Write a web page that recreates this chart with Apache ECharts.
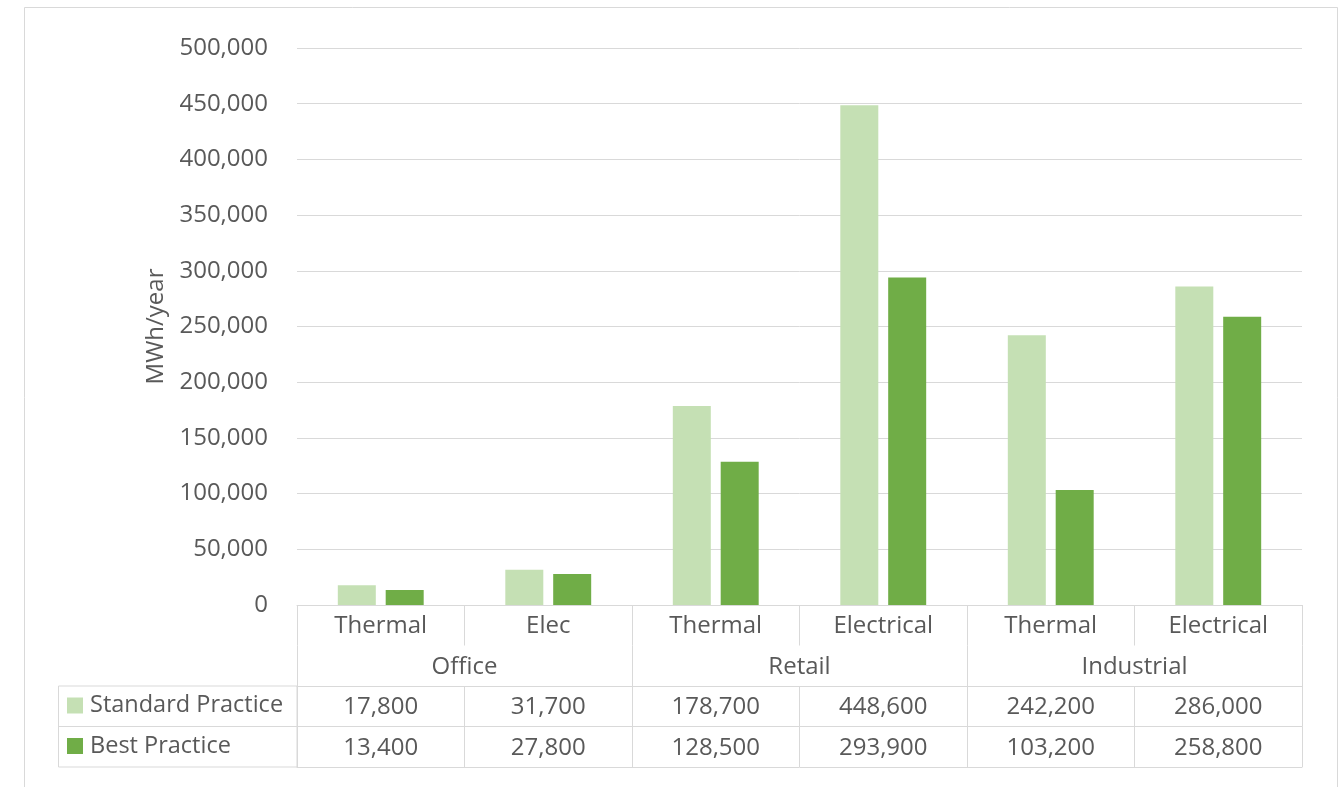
<!DOCTYPE html>
<html>
<head>
<meta charset="utf-8">
<script src="https://cdn.jsdelivr.net/npm/echarts@6/dist/echarts.min.js"></script>
<style>
html,body{margin:0;padding:0;background:#fff;}
#c{width:1342px;height:787px;}
</style>
</head>
<body>
<div id="c"></div>
<script>
// ---- data ----
var groups = ["Office", "Retail", "Industrial"];
var subLabels = ["Thermal", "Elec", "Thermal", "Electrical", "Thermal", "Electrical"];
var categoryKeys = ["Office Thermal", "Office Elec", "Retail Thermal", "Retail Electrical", "Industrial Thermal", "Industrial Electrical"];
var seriesNames = ["Standard Practice", "Best Practice"];
var standardPractice = [17800, 31700, 178700, 448600, 242200, 286000];
var bestPractice = [13400, 27800, 128500, 293900, 103200, 258800];
var yMin = 0, yMax = 500000, yInterval = 50000;

// ---- styling ----
var FONT = "'Open Sans', 'DejaVu Sans', sans-serif";
var TXT = "#595959";
var LINE = "#d9d9d9";
var FS = 24;
var ROW = 40.5;

function fmt(v) { return Number(v).toLocaleString('en-US'); }

function tableAxis(offset, labels, opts) {
  opts = opts || {};
  return {
    type: 'category',
    gridIndex: 0,
    position: 'bottom',
    offset: offset,
    data: opts.data || categoryKeys,
    boundaryGap: true,
    axisLine: { show: opts.line !== false, lineStyle: { color: LINE, width: 1 } },
    axisTick: { show: opts.tick !== false, length: ROW, interval: 0, alignWithLabel: false, lineStyle: { color: LINE, width: 1 } },
    axisLabel: {
      show: !!labels,
      interval: 0,
      hideOverlap: false,
      margin: ROW / 2 + 1,
      verticalAlign: 'middle',
      color: TXT,
      fontFamily: FONT,
      fontSize: FS,
      formatter: function (v, i) { return labels ? labels[i] : ''; }
    },
    splitLine: { show: false }
  };
}

var chart = echarts.init(document.getElementById('c'), null, { renderer: 'canvas' });
chart.setOption({
  animation: false,
  backgroundColor: '#ffffff',
  color: ['#c5e0b4', '#70ad47'],
  grid: { left: 297, right: 40, top: 48, bottom: 182, containLabel: false },
  legend: {
    orient: 'vertical',
    left: 62,
    top: 688,
    padding: 5,
    itemWidth: 16,
    itemHeight: 16,
    itemGap: 15.5,
    icon: 'rect',
    data: seriesNames,
    textStyle: { color: TXT, fontFamily: FONT, fontSize: 23.5, lineHeight: 25, padding: [0, 0, 0, 2] }
  },
  xAxis: [
    tableAxis(0, subLabels),
    tableAxis(ROW, groups, { data: groups, line: false }),
    tableAxis(ROW * 2, standardPractice.map(fmt)),
    tableAxis(ROW * 3, bestPractice.map(fmt)),
    tableAxis(ROW * 4, null, { tick: false })
  ],
  yAxis: {
    type: 'value',
    min: yMin,
    max: yMax,
    interval: yInterval,
    name: 'MWh/year',
    nameLocation: 'middle',
    nameGap: 128,
    nameRotate: 90,
    nameTextStyle: { color: TXT, fontFamily: FONT, fontSize: FS },
    axisLine: { show: false },
    axisTick: { show: false },
    axisLabel: { color: TXT, fontFamily: FONT, fontSize: FS, margin: 29, formatter: function (v) { return fmt(v); } },
    splitLine: { lineStyle: { color: LINE, width: 1 } }
  },
  series: [
    { name: seriesNames[0], type: 'bar', xAxisIndex: 0, data: standardPractice, barWidth: 38, barGap: '26%' },
    { name: seriesNames[1], type: 'bar', xAxisIndex: 0, data: bestPractice, barWidth: 38, barGap: '26%' }
  ],
  graphic: [
    { type: 'rect', silent: true, z: -1, shape: { x: 24.5, y: 7.5, width: 1313, height: 800 }, style: { fill: 'none', stroke: LINE, lineWidth: 1 } },
    { type: 'rect', silent: true, shape: { x: 58.5, y: 605 + ROW * 2, width: 297 - 58.5, height: ROW * 2 }, style: { fill: 'none', stroke: LINE, lineWidth: 1 } },
    { type: 'line', silent: true, shape: { x1: 58.5, y1: 605 + ROW * 3, x2: 297, y2: 605 + ROW * 3 }, style: { stroke: LINE, lineWidth: 1 } }
  ]
});
</script>
</body>
</html>
